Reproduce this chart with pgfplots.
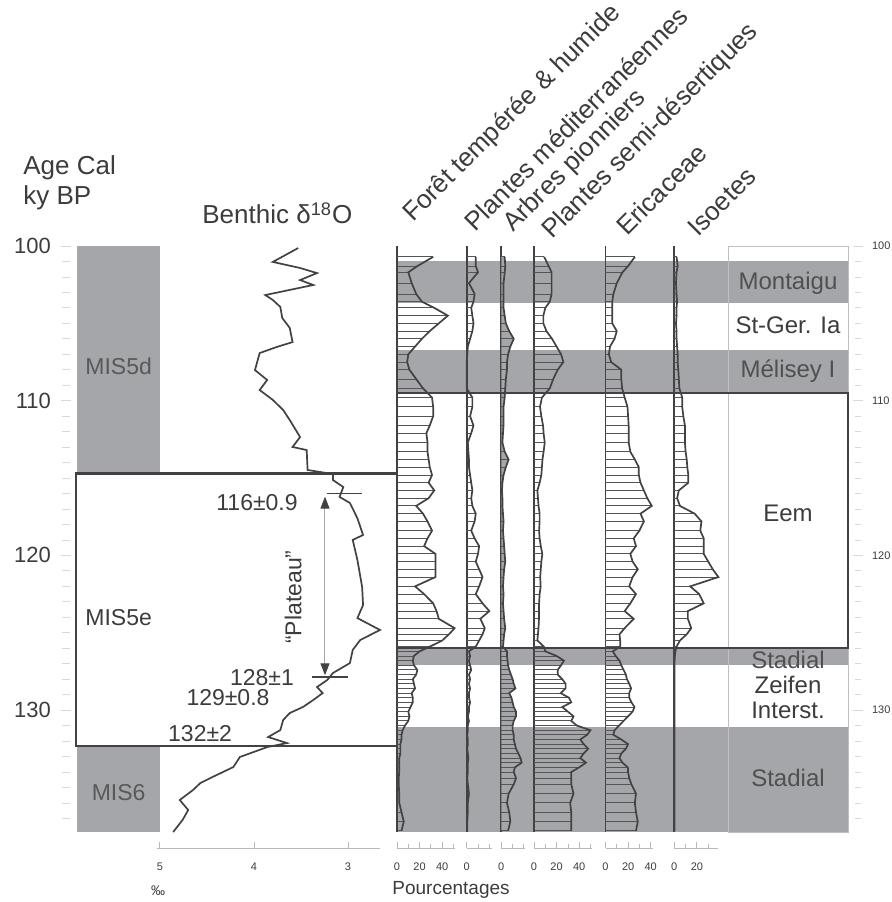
\documentclass[border=0pt]{standalone}
\usepackage{pgfplots}
\pgfplotsset{compat=1.18}
\usepackage{pgfplotstable}
\usepackage{fontspec}
\setmainfont{Liberation Sans}
\usetikzlibrary{arrows.meta}
\definecolor{txt}{HTML}{3C3C3C}
\definecolor{band}{HTML}{A4A6A9}
\definecolor{ln}{HTML}{424242}
\definecolor{hl}{HTML}{555555}

\pgfplotstableread{
age F M A S E I
100.7 32 8 3 9 26 2
101.3 18 8 3.5 13 20 3
101.7 10 10 3 15.6 15 2
102.4 13 2 2 15.6 10 1.5
103.1 17 7 2 15.6 7 2
103.6 22 6 2 14 6 2.5
104.0 33 4 2 10 6 2
104.5 45 5 3 8.3 6 2
105.0 37 6 4 8.3 6 1.5
105.5 29 5 7 11 10 2
106.0 22 3 11 16 8 2
106.5 16 1 8 20 4 2.5
107.0 10 0.5 6 24 3 3
107.5 9 0 5 26 5 3
108.0 11 0 5 21 14 3.5
108.6 17 0 4 17 14 4
109.2 23 0 3.5 14 14.7 4.5
109.8 31 5 3 7 17 7
110.4 32 5 2 5.3 19.5 7
111.0 32 3 2 6.5 20 8
111.6 29 6 2 8 20.5 9.4
112.1 26 4 1.5 8.5 20.5 9.4
112.7 27 1 1 9.5 20.5 9.4
113.3 27 1.5 3 8.5 22 10
113.8 28 2 6.5 7.5 26 11
114.3 29 2 4 7 29.5 11.5
114.8 31 3 2 6.5 29.5 12.4
115.3 28 4 1 5 31 12.4
115.8 33 5 0.6 3 34 4
116.3 28 4 1 3.5 37 2.5
116.8 17 5 1 4 41 5
117.3 23 8 1.5 5 31 18
117.8 27 7 2 5 34 24
118.4 31 4 1.5 4.5 30 23
118.9 27 7 2 5 25 26
119.4 24 11 2.5 6 27 26
119.9 34 10 3 7.4 22 26
120.4 34 8 3.5 6.5 24 30
120.9 34 11 2.5 6 28.6 34
121.4 34 14 2 5.5 24 39
122.0 16 11 1.5 5.9 21 14
122.5 24 8 2 5 27 22
123.1 32 14 1.5 4.5 22 26
123.6 35 20 2 4.5 17 12
124.1 37 12 2.5 4.4 25 12
124.7 51 16 3.5 4 17 15
125.1 46 14 2.5 3.5 12.4 11
125.5 40 11 2 3 13 5
125.9 29 8 1.5 8.8 13 2
126.2 20 2 5 10 6.5 1
126.5 15 3 5 20 9 0.5
126.8 14 2 5.5 26.5 12.4 0.3
127.1 15 3 6 24 14 0.3
127.4 18 4 7 21 16 0.3
127.7 17 2 8.5 21 18 0.3
128.0 14 3 10 25 19 0.3
128.3 15 2 11 28 21 0.3
128.6 16 3 12.5 28 22.7 0.3
128.9 13 2 7 23.6 21 0.3
129.2 14 2 9 31 21 0.3
129.5 14 3 10 33 23 0.3
129.8 12 2 11 25 25.7 0.3
130.1 10 2 13 30 24 0.3
130.4 11 1 13 35 20 0.3
130.7 10 2 11 33 16 0.3
131.0 7 1 10 38 12 0.3
131.3 5 1 10 50 8 0.3
131.6 4 0.5 11 47 7 0.3
131.9 4 1 11 41 14 0.3
132.2 3 1 12 44 20 0.3
132.5 3 0.5 13 48 18 0.3
132.8 3 1 15 44 14 0.3
133.1 2 1.5 17 41 12.4 0.3
133.4 2 1 18 46 15 0.3
133.7 2 1 12 40 19.8 0.3
134.0 2 1 11 33 20 0.3
134.4 1.5 0.5 13 33 21 0.3
134.8 1.5 1 11 33 23 0.3
135.4 2 2 6.5 35 27 0.3
136.0 2 1 5 32 26 0.3
136.6 4 1 7 33 27 0.3
137.2 6 0.5 8 33 28.6 0.3
137.8 4 0.5 6 33 27 0.3
}\pollen

\pgfplotstableread{
v age
3.53 100.13
3.80 101.03
3.51 101.42
3.33 101.75
3.51 102.20
3.37 102.52
3.88 103.17
3.80 103.49
3.72 103.94
3.70 104.65
3.62 105.30
3.59 106.21
3.76 106.53
3.94 106.92
3.99 108.02
3.86 108.66
3.94 109.31
3.80 109.95
3.69 110.60
3.62 111.25
3.51 112.35
3.59 112.99
3.44 113.19
3.43 114.48
3.16 114.74
3.16 115.13
3.05 115.58
3.09 116.22
2.98 116.61
2.90 117.60
2.84 118.68
2.95 119.00
2.90 120.30
2.85 122.04
2.84 123.21
2.90 124.05
2.66 124.82
2.87 125.47
2.95 126.11
2.98 126.96
3.16 127.60
3.22 128.05
3.33 128.51
3.27 128.90
3.37 129.35
3.48 129.80
3.62 130.19
3.69 130.64
3.72 131.29
3.85 131.74
3.65 132.13
3.86 132.39
4.15 133.03
4.22 133.68
4.44 134.32
4.57 134.71
4.65 135.17
4.79 135.81
4.70 136.46
4.76 137.10
4.86 137.88
}\isotope

\pgfplotsset{
  col/.style={scale only axis, height=293pt, anchor=north west,
    ymin=100, ymax=137.88, y dir=reverse, xmin=0, clip=false,
    axis x line=none, axis y line=left,
    axis line style={-, draw=ln, line width=0.9pt}, ytick=\empty},
  sc/.style={scale only axis, height=1pt, anchor=south west, xmin=0, ymin=0, ymax=1,
    axis x line=bottom, axis y line=none,
    x axis line style={-, draw=gray!55, line width=0.4pt},
    tick style={draw=gray!55, line width=0.4pt}, xtick align=inside,
    major tick length=3pt, minor tick length=2pt,
    xticklabel style={font=\fontsize{5.5}{6}\selectfont, text=txt, yshift=-4pt},
    /pgf/number format/assume math mode=true},
  curve/.style={draw=ln, line width=0.85pt},
  comb/.style={xcomb, draw=hl, line width=0.45pt},
  ovl/.style={scale only axis, height=293pt, width=225.5pt, anchor=north west,
    at={(198.5pt,328pt)}, xmin=397, xmax=848, ymin=100, ymax=137.88,
    y dir=reverse, axis lines=none, clip=false},
}
\newcommand{\ttl}{\fontsize{13}{15}\selectfont}

\begin{document}
\begin{tikzpicture}
\useasboundingbox (0,0) rectangle (446pt,451pt);

% background zone bands
\begin{axis}[ovl]
\fill[band] (axis cs:397,101.0) rectangle (axis cs:848,103.7);
\fill[band] (axis cs:397,106.7) rectangle (axis cs:848,109.5);
\fill[band] (axis cs:397,126.0) rectangle (axis cs:848,127.1);
\fill[band] (axis cs:397,131.1) rectangle (axis cs:848,137.88);
\end{axis}

% d18O panel with MIS column
\begin{axis}[scale only axis, height=293pt, width=160.5pt, anchor=north west,
  at={(38pt,328pt)}, xmin=2.479, xmax=5.894, x dir=reverse,
  ymin=100, ymax=137.88, y dir=reverse, axis lines=none, clip=false]
\fill[band] (axis cs:5.883,100) rectangle (axis cs:5.0,114.7);
\fill[band] (axis cs:5.883,132.3) rectangle (axis cs:5.0,137.88);
\draw[ln, line width=1.1pt] (axis cs:5.894,114.7) rectangle (axis cs:2.479,132.3);
\addplot[draw=ln, line width=0.85pt] table[x=v, y=age] {\isotope};
\draw[ln, line width=0.6pt] (axis cs:3.223,116.0) -- (axis cs:2.851,116.0);
\draw[ln, line width=0.6pt] (axis cs:3.383,127.86) -- (axis cs:3.0,127.86);
\draw[gray!70, line width=0.5pt, {Triangle[length=6pt,width=4.5pt,fill=ln,color=ln]}-{Triangle[length=6pt,width=4.5pt,fill=ln,color=ln]}]
  (axis cs:3.245,116.2) -- (axis cs:3.245,127.75);
\node[font=\fontsize{11.5}{13}\selectfont, text=txt] at (axis cs:3.968,116.6) {116±0.9};
\node[font=\fontsize{11.5}{13}\selectfont, text=txt] at (axis cs:3.915,127.9) {128±1};
\node[font=\fontsize{11.5}{13}\selectfont, text=txt] at (axis cs:4.277,129.2) {129±0.8};
\node[font=\fontsize{11.5}{13}\selectfont, text=txt] at (axis cs:4.574,131.5) {132±2};
\node[rotate=90, font=\fontsize{11.5}{13}\selectfont, text=txt] at (axis cs:3.585,122.7) {“Plateau”};
\node[font=\fontsize{11.5}{13}\selectfont, text=txt!85] at (axis cs:5.44,107.8) {MIS5d};
\node[font=\fontsize{11.5}{13}\selectfont, text=txt] at (axis cs:5.44,124.0) {MIS5e};
\node[font=\fontsize{11.5}{13}\selectfont, text=txt!85] at (axis cs:5.44,135.3) {MIS6};
\end{axis}

% left age axis
\begin{axis}[scale only axis, height=293pt, width=1pt, anchor=north west,
  at={(33pt,328pt)}, xmin=0, xmax=1, ymin=100, ymax=137.88, y dir=reverse,
  axis x line=none, axis y line=left, y axis line style={draw=none},
  ytick={100,110,120,130}, minor ytick={100,...,137},
  tick style={draw=gray!30, line width=0.4pt}, major tick length=5pt, minor tick length=4pt,
  yticklabel style={font=\fontsize{11}{13}\selectfont, text=txt, xshift=-1.5pt},
  /pgf/number format/assume math mode=true]
\end{axis}

% right age axis
\begin{axis}[scale only axis, height=293pt, width=1pt, anchor=north east,
  at={(429pt,328pt)}, xmin=0, xmax=1, ymin=100, ymax=137.88, y dir=reverse,
  axis x line=none, axis y line=right, y axis line style={draw=none},
  ytick={100,110,120,130}, minor ytick={100,...,137},
  tick style={draw=gray!30, line width=0.4pt}, major tick length=5pt, minor tick length=3pt,
  yticklabel style={font=\fontsize{5.5}{6}\selectfont, text=txt, xshift=1pt},
  /pgf/number format/assume math mode=true]
\end{axis}

% pollen columns
\begin{axis}[col, at={(198.5pt,328pt)}, width=30pt, xmax=53.1]
\addplot[comb] table[x=F, y=age] {\pollen};
\addplot[curve] table[x=F, y=age] {\pollen};
\end{axis}
\begin{axis}[col, at={(233.35pt,328pt)}, width=15pt, xmax=26.5]
\addplot[comb] table[x=M, y=age] {\pollen};
\addplot[curve] table[x=M, y=age] {\pollen};
\end{axis}
\begin{axis}[col, at={(250.65pt,328pt)}, width=15pt, xmax=26.5]
\addplot[fill=band, draw=none] table[x=A, y=age] {\pollen} -- (axis cs:0,137.8) -- (axis cs:0,100.7) -- cycle;
\addplot[comb] table[x=A, y=age] {\pollen};
\addplot[curve] table[x=A, y=age] {\pollen};
\end{axis}
\begin{axis}[col, at={(267pt,328pt)}, width=31pt, xmax=54.9]
\addplot[comb] table[x=S, y=age] {\pollen};
\addplot[curve] table[x=S, y=age] {\pollen};
\end{axis}
\begin{axis}[col, at={(302.75pt,328pt)}, width=27.5pt, xmax=48.7]
\addplot[comb] table[x=E, y=age] {\pollen};
\addplot[curve] table[x=E, y=age] {\pollen};
\end{axis}
\begin{axis}[col, at={(337.15pt,328pt)}, width=25pt, xmax=44.2]
\addplot[comb] table[x=I, y=age] {\pollen};
\addplot[curve] table[x=I, y=age] {\pollen};
\end{axis}

% zone column, Eem box, labels
\begin{axis}[ovl]
\draw[gray!50, line width=0.5pt] (axis cs:728,100.06) rectangle (axis cs:848,137.88);
\draw[ln, line width=1.1pt] (axis cs:397,109.5) rectangle (axis cs:848,126.0);
\node[font=\fontsize{12}{13}\selectfont, text=txt!90] at (axis cs:788,102.39) {Montaigu};
\node[font=\fontsize{12}{13}\selectfont, text=txt] at (axis cs:788,105.11) {St-Ger. Ia};
\node[font=\fontsize{12}{13}\selectfont, text=txt!90] at (axis cs:788,108.08) {Mélisey I};
\node[font=\fontsize{12}{13}\selectfont, text=txt] at (axis cs:788,117.3) {Eem};
\node[font=\fontsize{12}{13}\selectfont, text=txt!90] at (axis cs:788,126.76) {Stadial};
\node[font=\fontsize{12}{13}\selectfont, text=txt] at (axis cs:788,128.38) {Zeifen};
\node[font=\fontsize{12}{13}\selectfont, text=txt] at (axis cs:788,130.0) {Interst.};
\node[font=\fontsize{12}{13}\selectfont, text=txt!90] at (axis cs:788,134.4) {Stadial};
\end{axis}

% bottom scales
\begin{axis}[sc, at={(78.5pt,27pt)}, width=111.5pt, xmin=2.66, xmax=5.03, x dir=reverse, xtick={3,4,5}]
\end{axis}
\begin{axis}[sc, at={(198.5pt,27pt)}, width=28.8pt, xmax=51, xtick={0,20,40}, minor xtick={10,30,50}]
\end{axis}
\begin{axis}[sc, at={(233.35pt,27pt)}, width=12.5pt, xmax=22.1, xtick={0}, minor xtick={10,20}]
\end{axis}
\begin{axis}[sc, at={(250.65pt,27pt)}, width=11.85pt, xmax=21, xtick={0}, minor xtick={10,20}]
\end{axis}
\begin{axis}[sc, at={(267pt,27pt)}, width=29pt, xmax=51.3, xtick={0,20,40}, minor xtick={10,30,50}]
\end{axis}
\begin{axis}[sc, at={(302.75pt,27pt)}, width=23.75pt, xmax=42, xtick={0,20,40}, minor xtick={10,30}]
\end{axis}
\begin{axis}[sc, at={(337.15pt,27pt)}, width=21.85pt, xmax=38.7, xtick={0,20}, minor xtick={10,30}]
\end{axis}

% titles
\node[anchor=base west, inner sep=0pt, font=\ttl, text=txt] at (11.5pt,363.5pt) {Age Cal};
\node[anchor=base west, inner sep=0pt, font=\ttl, text=txt] at (11.5pt,348.5pt) {ky BP};
\node[anchor=base west, inner sep=0pt, font=\ttl, text=txt] at (101pt,339pt) {Benthic δ\textsuperscript{18}O};
\node[rotate=45, anchor=base west, inner sep=0pt, font=\ttl, text=txt] at (206.5pt,339.5pt) {Forêt tempérée \& humide};
\node[rotate=45, anchor=base west, inner sep=0pt, font=\ttl, text=txt] at (237.5pt,334.5pt) {Plantes méditerranéennes};
\node[rotate=45, anchor=base west, inner sep=0pt, font=\ttl, text=txt] at (256.5pt,334.5pt) {Arbres pionniers};
\node[rotate=45, anchor=base west, inner sep=0pt, font=\ttl, text=txt] at (276pt,331pt) {Plantes semi-désertiques};
\node[rotate=45, anchor=base west, inner sep=0pt, font=\ttl, text=txt] at (313.5pt,332.5pt) {Ericaceae};
\node[rotate=45, anchor=base west, inner sep=0pt, font=\ttl, text=txt] at (349pt,332pt) {Isoetes};
\node[anchor=west, inner sep=0pt, font=\fontsize{9.5}{11}\selectfont, text=txt] at (196pt,6pt) {Pourcentages};
\node[inner sep=0pt, font=\fontsize{7}{8}\selectfont, text=txt] at (79pt,5.5pt) {‰};
\end{tikzpicture}
\end{document}
